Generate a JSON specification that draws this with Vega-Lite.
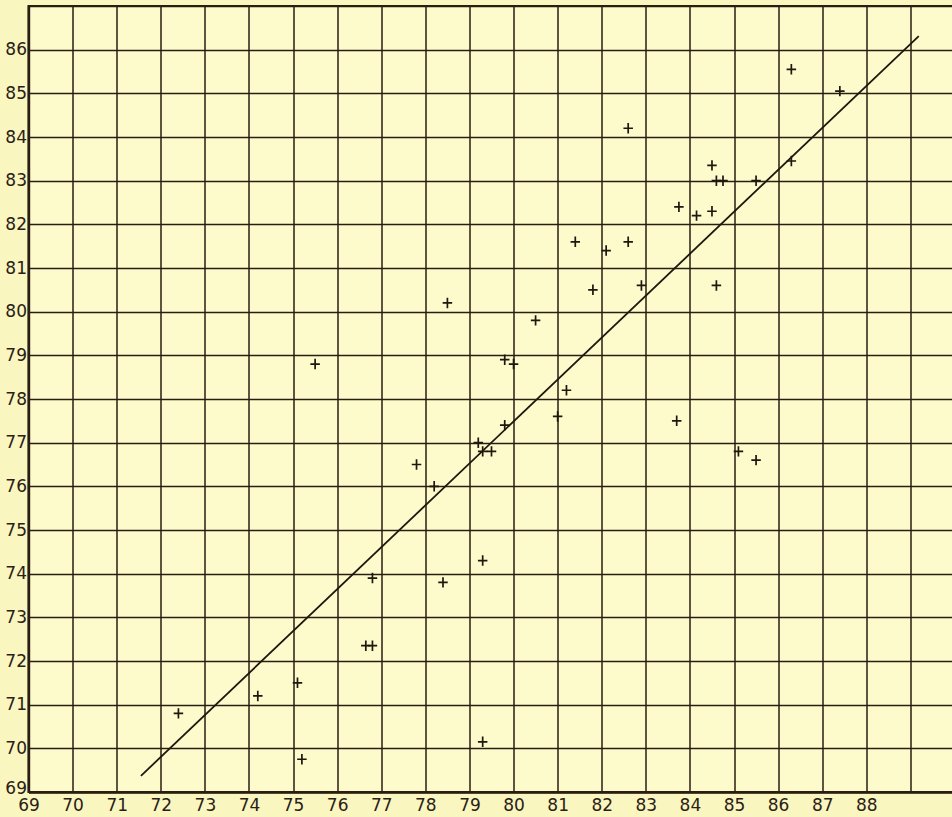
{
  "$schema": "https://vega.github.io/schema/vega-lite/v6.json",
  "width": 926,
  "height": 786,
  "autosize": "none",
  "padding": {"left": 28.5, "top": 6, "right": 0, "bottom": 25},
  "background": "#FAF6C0",
  "config": {
    "view": {"fill": "#FDFBCB", "stroke": "#2a1d12", "strokeWidth": 2},
    "axis": {
      "labelFont": "DejaVu Sans",
      "labelFontSize": 17,
      "labelColor": "#2a2016",
      "gridColor": "#2a1d12",
      "gridWidth": 1.5,
      "gridOpacity": 1,
      "domainColor": "#2a1d12",
      "domainWidth": 2.4,
      "ticks": false,
      "title": null
    }
  },
  "datasets": {
    "points": [
      {"x": 72.4, "y": 70.8}, {"x": 74.2, "y": 71.2}, {"x": 75.1, "y": 71.5}, {"x": 75.2, "y": 69.75},
      {"x": 75.5, "y": 78.8}, {"x": 76.65, "y": 72.35}, {"x": 76.8, "y": 72.35}, {"x": 76.8, "y": 73.9},
      {"x": 78.4, "y": 73.8}, {"x": 79.3, "y": 74.3}, {"x": 79.3, "y": 70.15}, {"x": 78.5, "y": 80.2},
      {"x": 80.5, "y": 79.8}, {"x": 79.8, "y": 78.9}, {"x": 80.0, "y": 78.8}, {"x": 81.2, "y": 78.2},
      {"x": 81.0, "y": 77.6}, {"x": 79.8, "y": 77.4}, {"x": 79.2, "y": 77.0}, {"x": 79.3, "y": 76.8},
      {"x": 79.5, "y": 76.8}, {"x": 77.8, "y": 76.5}, {"x": 78.2, "y": 76.0}, {"x": 81.8, "y": 80.5},
      {"x": 82.9, "y": 80.6}, {"x": 84.6, "y": 80.6}, {"x": 83.7, "y": 77.5}, {"x": 85.1, "y": 76.8},
      {"x": 85.5, "y": 76.6}, {"x": 82.6, "y": 84.2}, {"x": 81.4, "y": 81.6}, {"x": 82.1, "y": 81.4},
      {"x": 82.6, "y": 81.6}, {"x": 86.3, "y": 85.55}, {"x": 87.4, "y": 85.05}, {"x": 86.3, "y": 83.45},
      {"x": 84.5, "y": 83.35}, {"x": 84.6, "y": 83.0}, {"x": 84.75, "y": 83.0}, {"x": 85.5, "y": 83.0},
      {"x": 83.75, "y": 82.4}, {"x": 84.15, "y": 82.2}, {"x": 84.5, "y": 82.3}
    ],
    "fit": [
      {"x": 71.55, "y": 69.37},
      {"x": 89.19, "y": 86.31}
    ]
  },
  "layer": [
    {
      "data": {"name": "fit"},
      "mark": {"type": "line", "color": "#1f160e", "strokeWidth": 1.8},
      "encoding": {
        "x": {"field": "x", "type": "quantitative", "scale": {"domain": [69, 90], "nice": false, "zero": false},
              "axis": {"values": [69,70,71,72,73,74,75,76,77,78,79,80,81,82,83,84,85,86,87,88,89], "labelExpr": "datum.value == 89 ? '' : datum.label", "labelPadding": 5, "labelFlush": false}},
        "y": {"field": "y", "type": "quantitative", "scale": {"domain": [69, 87], "nice": false, "zero": false},
              "axis": {"values": [69,70,71,72,73,74,75,76,77,78,79,80,81,82,83,84,85,86,87], "labelExpr": "datum.value == 87 ? '' : datum.label", "labelPadding": 2, "labelFlush": false,
                       "labelOffset": {"condition": {"test": "datum.value == 69", "value": -4}, "value": 0}}}
      }
    },
    {
      "data": {"name": "points"},
      "mark": {"type": "point", "shape": "M-1,0L1,0M0,-1.1L0,1.1", "filled": false, "color": "#1f160e", "strokeWidth": 1.7, "size": 90, "opacity": 1},
      "encoding": {
        "x": {"field": "x", "type": "quantitative"},
        "y": {"field": "y", "type": "quantitative"}
      }
    }
  ]
}
